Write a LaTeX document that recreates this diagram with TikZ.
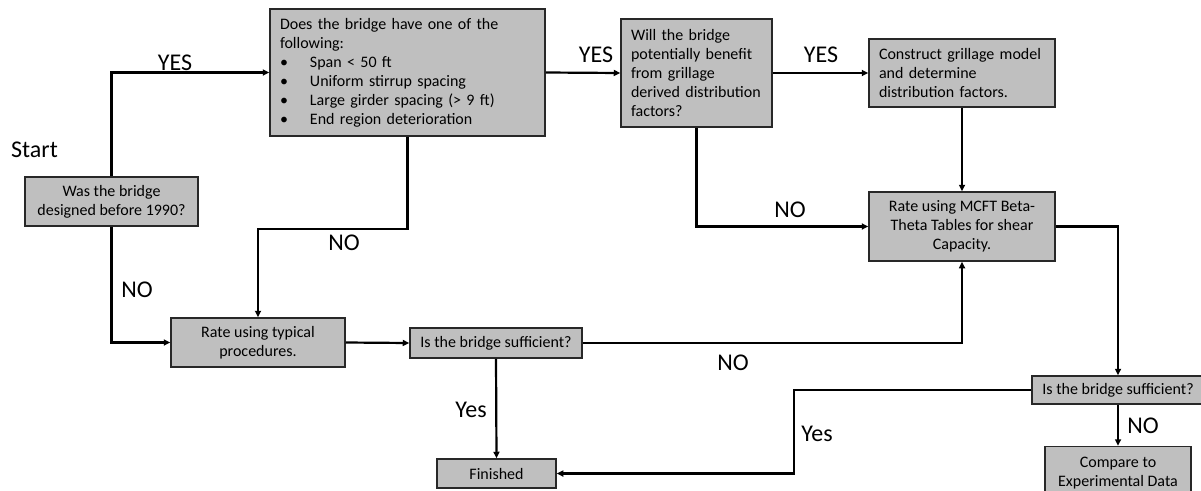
\documentclass[tikz,border=0pt]{standalone}
\usepackage{fontspec}
\setmainfont{Carlito}
\usetikzlibrary{arrows.meta,calc}
\definecolor{boxgray}{RGB}{191,191,191}
\definecolor{boxline}{RGB}{40,40,40}
\begin{document}
\begin{tikzpicture}[x=1pt,y=-1pt,
  box/.style={draw=boxline, line width=1.5pt, fill=boxgray, inner xsep=10pt, inner ysep=0pt,
    font=\fontsize{16}{19}\selectfont},
  cbox/.style={box, align=center},
  lbox/.style={box, align=left},
  arr/.style={line width=2.2pt, -{Triangle[length=6.5pt,width=6pt]}},
  lbl/.style={inner sep=0pt, font=\fontsize{24}{28}\selectfont}]
\useasboundingbox (0,0) rectangle (1201,490);

% boxes
\node[cbox, minimum width=173pt, minimum height=49pt] (b1) at (111.5,201.5)
  {Was the bridge\\designed before 1990?};
\node[lbox, text width=255pt, minimum height=127pt] (b2) at (407.5,72.5)
  {Does the bridge have one of the\\following:\\
   \makebox[30pt][l]{\textbullet}Span < 50 ft\\
   \makebox[30pt][l]{\textbullet}Uniform stirrup spacing\\
   \makebox[30pt][l]{\textbullet}Large girder spacing (> 9 ft)\\
   \makebox[30pt][l]{\textbullet}End region deterioration};
\node[lbox, text width=131pt, minimum height=108pt] (b3) at (696.5,73)
  {Will the bridge\\potentially benefit\\from grillage\\derived distribution\\factors?};
\node[lbox, text width=166pt, minimum height=68pt] (b4) at (962,73)
  {Construct grillage model\\and determine\\distribution factors.};
\node[cbox, minimum width=186pt, minimum height=69pt] (b5) at (962,226.5)
  {Rate using MCFT Beta-\\Theta Tables for shear\\Capacity.};
\node[cbox, minimum width=174pt, minimum height=49pt] (rate) at (258,342.5)
  {Rate using typical\\procedures.};
\node[cbox, minimum width=172pt, minimum height=30pt] (s1) at (496,343)
  {Is the bridge sufficient?};
\node[cbox, minimum width=119pt, minimum height=29pt] (fin) at (496.5,473.5)
  {Finished};
\node[cbox, minimum width=172pt, minimum height=28pt] (s2) at (1118,390)
  {Is the bridge sufficient?};
\node[cbox, minimum width=146pt, minimum height=53pt] (cmp) at (1118,473)
  {Compare to\\Experimental Data};

% connectors
\draw[arr] (b1.north) |- (b2.west);
\draw[arr] (b2.east) -- (b3.west);
\draw[arr] (b3.east) -- (b4.west);
\draw[arr] (b4.south) -- (b5.north);
\draw[arr] (b3.south) |- (b5.west);
\draw[arr] (b2.south) -- ++(0,92) -| (rate.north);
\draw[arr] (b1.south) |- (rate.west);
\draw[arr] (rate.east) -- (s1.west);
\draw[arr] (s1.east) -| (b5.south);
\draw[arr] (s1.south) -- (fin.north);
\draw[arr] (b5.east) -| (s2.north);
\draw[arr] (s2.south) -- (cmp.north);
\draw[arr] (s2.west) -| ($(fin.east)+(237,0)$) -- (fin.east);

% labels
\node[lbl] (lstart) at (34.5,150) {Start};
\node[lbl] (lyes1) at (175,63) {YES};
\node[lbl] (lyes2) at (596,55) {YES};
\node[lbl] (lyes3) at (821,55) {YES};
\node[lbl] (lno1) at (790,210) {NO};
\node[lbl] (lno2) at (344,243) {NO};
\node[lbl] (lno3) at (137,290) {NO};
\node[lbl] (lyes4) at (471,410) {Yes};
\node[lbl] (lno4) at (733,363) {NO};
\node[lbl] (lyes5) at (817,434) {Yes};
\node[lbl] (lno5) at (1143,426) {NO};
\end{tikzpicture}
\end{document}
